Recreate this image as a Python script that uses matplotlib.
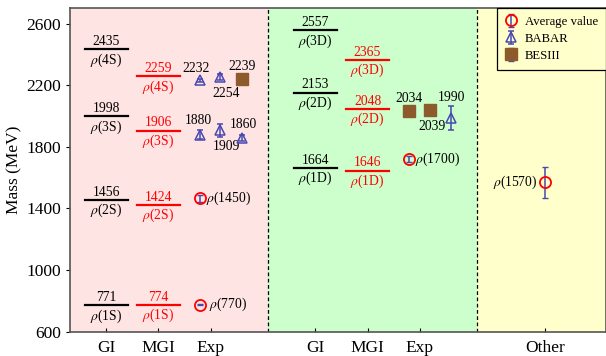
import matplotlib
matplotlib.use("Agg")
import matplotlib.pyplot as plt
from matplotlib.legend_handler import HandlerTuple

plt.rcParams["font.family"] = ["Liberation Serif", "DejaVu Serif"]
plt.rcParams["mathtext.fontset"] = "stix"

# --- data -------------------------------------------------------------------
tick_pos = [1, 2, 3, 5, 6, 7, 9.4]
tick_labels = ["GI", "MGI", "Exp", "GI", "MGI", "Exp", "Other"]

# GI / MGI predicted levels: (x, mass, name)
gi_x = [1, 1, 1, 1, 5, 5, 5]
gi_mass = [771, 1456, 1998, 2435, 1664, 2153, 2557]
gi_name = ["1S", "2S", "3S", "4S", "1D", "2D", "3D"]
mgi_x = [2, 2, 2, 2, 6, 6, 6]
mgi_mass = [774, 1424, 1906, 2259, 1646, 2048, 2365]
mgi_name = ["1S", "2S", "3S", "4S", "1D", "2D", "3D"]

# average values
avg_x = [2.8, 2.8, 6.8, 9.4]
avg_mass = [775, 1465, 1720, 1570]
avg_err = [2, 25, 20, 100]
avg_name = ["770", "1450", "1700", "1570"]

# BABAR
babar_x = [2.8, 3.17, 2.8, 3.17, 3.6, 7.6]
babar_mass = [2232, 2254, 1880, 1909, 1860, 1990]
babar_err = [8, 22, 30, 42, 20, 78]

# BESIII
bes_x = [3.6, 6.8, 7.2]
bes_mass = [2239, 2034, 2039]
bes_err = [12, 12, 20]

# --- figure -----------------------------------------------------------------
fig = plt.figure(figsize=(6.06, 3.56), dpi=100)
ax = fig.add_axes([70 / 606, 1 - 331.5 / 356, 536 / 606, 323.5 / 356])
xmin, xmax = 0.31, 10.56
ax.set_xlim(xmin, xmax)
ax.set_ylim(600, 2703)

ax.axvspan(xmin, 4.1, color="#ffe4e4", zorder=0)
ax.axvspan(4.1, 8.1, color="#ccffcc", zorder=0)
ax.axvspan(8.1, xmax, color="#ffffcc", zorder=0)
for xv in (4.1, 8.1):
    ax.axvline(xv, color="black", ls=(0, (3, 2)), lw=0.9, zorder=1)

fs = 9.8
for xs, ms, names, col in ((gi_x, gi_mass, gi_name, "black"),
                           (mgi_x, mgi_mass, mgi_name, "red")):
    for x, m, n in zip(xs, ms, names):
        ax.plot([x - 0.41, x + 0.41], [m, m], color=col, lw=1.6, zorder=3)
        ax.annotate(str(m), (x, m), xytext=(0, 0.8), textcoords="offset points",
                    ha="center", va="bottom", fontsize=fs, color=col)
        ax.annotate(r"$\rho$(" + n + ")", (x, m), xytext=(0, -1.5),
                    textcoords="offset points", ha="center", va="top",
                    fontsize=fs, color=col)

blue = "#4848b0"
brown = "#8c5a2b"

bes = ax.errorbar(bes_x, bes_mass, yerr=bes_err, fmt="s", ms=8.5, mfc=brown,
                  mec=brown, ecolor=blue, elinewidth=1.1, capsize=2, zorder=4)
babar = ax.errorbar(babar_x, babar_mass, yerr=babar_err, fmt="^", ms=6.5,
                    mfc="none", mec=blue, mew=1.1, ecolor=blue, elinewidth=1.1,
                    capsize=2, zorder=4)
avg_eb = ax.errorbar(avg_x, avg_mass, yerr=avg_err, fmt="none", ecolor=blue,
                     elinewidth=1.1, capsize=2, zorder=4)
avg_pt, = ax.plot(avg_x, avg_mass, "o", ms=8, mfc="none", mec="red", mew=1.3,
                  zorder=5)

# labels of the experimental points
exp_val_off = [(-3, 4, "2232"), (5, -7, "2254"), (0, 4.5, "2239"),
               (-1, 5.5, "1880"), (5, -7, "1909"), (1, 4.5, "1860"),
               (0, 4.5, "2034"), (1, -7, "2039"), (0, 9.5, "1990")]
exp_pts = list(zip(babar_x[:2], babar_mass[:2])) + [(bes_x[0], bes_mass[0])] \
    + list(zip(babar_x[2:5], babar_mass[2:5])) + list(zip(bes_x[1:], bes_mass[1:])) \
    + [(babar_x[5], babar_mass[5])]
for (x, m), (dx, dy, t) in zip(exp_pts, exp_val_off):
    ax.annotate(t, (x, m), xytext=(dx, dy), textcoords="offset points",
                ha="center", va="bottom" if dy > 0 else "top", fontsize=fs)

for x, m, n in zip(avg_x, avg_mass, avg_name):
    if n == "1570":
        ax.annotate(r"$\rho$(" + n + ")", (x, m), xytext=(-6, 0),
                    textcoords="offset points", ha="right", va="center", fontsize=fs)
    else:
        ax.annotate(r"$\rho$(" + n + ")", (x, m), xytext=(4 if n != "770" else 6, 0),
                    textcoords="offset points", ha="left", va="center", fontsize=fs)

ax.set_xticks(tick_pos)
ax.set_xticklabels(tick_labels, fontsize=12.5)
ax.set_yticks([600, 1000, 1400, 1800, 2200, 2600])
ax.tick_params(axis="x", direction="in", length=3, width=0.8, pad=6)
ax.tick_params(axis="y", direction="out", length=3, width=0.8, labelsize=12.5)
ax.set_ylabel("Mass (MeV)", fontsize=12.5, labelpad=3)
for s in ax.spines.values():
    s.set_color("#555555")
    s.set_linewidth(1.2)

leg = ax.legend([(avg_eb, avg_pt), babar, bes], ["Average value", "BABAR", "BESIII"],
                handler_map={tuple: HandlerTuple(ndivide=1)},
                loc="upper right", fontsize=9.2, frameon=True, fancybox=False,
                framealpha=1, edgecolor="black", handletextpad=0.6,
                handlelength=1.0, borderpad=0.6, labelspacing=0.4,
                borderaxespad=0, bbox_to_anchor=(1.0, 1.0))
leg.get_frame().set_facecolor("#ffffcc")
leg.get_frame().set_linewidth(0.9)

fig.savefig("out.png", dpi=100)
